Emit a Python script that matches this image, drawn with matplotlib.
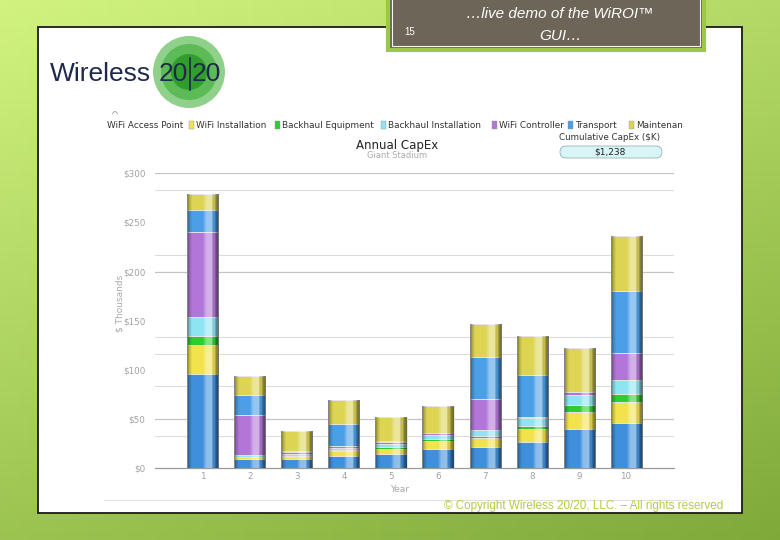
import numpy as np
import matplotlib
matplotlib.use('Agg')
import matplotlib.pyplot as plt
from matplotlib.patches import Rectangle, Circle, FancyBboxPatch

# data ($ thousands per year, stacked bottom -> top)
years = [1, 2, 3, 4, 5, 6, 7, 8, 9, 10]
series_names = ['WiFi Access Point', 'WiFi Installation', 'Backhaul Equipment',
                'Backhaul Installation', 'WiFi Controller', 'Transport', 'Maintenance']
wifi_ap = [96, 9, 9, 12.5, 14.5, 19.3, 21.3, 27, 39.6, 46.4]
wifi_inst = [29, 2, 2, 5, 5, 8.2, 9.8, 12.6, 18, 21.3]
bh_equip = [10, 1, 1.5, 1.5, 2.5, 2.3, 1.7, 3.4, 6.8, 7.6]
bh_inst = [18.6, 1.5, 2.5, 2, 3, 4.5, 6.2, 8, 10.1, 14.5]
wifi_ctrl = [86.5, 40.5, 2, 1.5, 1.5, 1.5, 31.2, 1.5, 2.8, 27.1]
transport = [22.4, 20.2, 1, 23, 1, 0.5, 42.6, 42.4, 0.5, 63.7]
maintenance = [16.2, 20, 20.3, 24, 25, 27.5, 34.2, 39.6, 44.7, 55.6]
yticks = [0, 50, 100, 150, 200, 250, 300]
ytick_labels = ['$0', '$50', '$100', '$150', '$200', '$250', '$300']
grid_vals = [33.3, 83.3, 116.7, 133.3, 216.7, 283.3]
grid_major = [50, 200, 300]
legend_labels = ['WiFi Installation', 'Backhaul Equipment', 'Backhaul Installation',
                 'WiFi Controller', 'Transport', 'Maintenan']
cumulative = '$1,238'

colors = ['#3f8fdc', '#f2e24c', '#2fcc2f', '#8fe4f2', '#b276d8', '#4a9fe6', '#dcd452']
stack = [wifi_ap, wifi_inst, bh_equip, bh_inst, wifi_ctrl, transport, maintenance]

W, H = 780, 540
fig = plt.figure(figsize=(7.8, 5.4), dpi=100)

# slide background in pixel coords
bg = fig.add_axes([0, 0, 1, 1])
bg.set_xlim(0, W)
bg.set_ylim(H, 0)
bg.axis('off')
yy, xx = np.mgrid[0:1:60j, 0:1:80j]
t = np.clip(0.65 * yy + 0.35 * xx, 0, 1)[..., None]
top = np.array([0.82, 0.95, 0.50])
bot = np.array([0.50, 0.67, 0.22])
bg.imshow(top * (1 - t) + bot * t, extent=[0, W, H, 0], aspect='auto', zorder=0)

# white panel
bg.add_patch(Rectangle((38, 27), 704, 486, facecolor='white', edgecolor='#1a1a1a',
                       lw=1.3, zorder=1))

# title box
bg.add_patch(Rectangle((388, -4), 316, 54, facecolor='#6d6557', edgecolor='#9cc84a',
                       lw=3, zorder=5))
bg.add_patch(Rectangle((392, -2), 308, 48, facecolor='none', edgecolor='#f4f4f0',
                       lw=0.8, zorder=6))
bg.text(560, 14, '\u2026live demo of the WiROI\u2122', color='white', fontsize=11,
        style='italic', family=['Liberation Sans', 'DejaVu Sans'], ha='center',
        va='center', zorder=7)
bg.text(560, 36, 'GUI\u2026', color='white', fontsize=11, style='italic',
        family=['Liberation Sans', 'DejaVu Sans'], ha='center', va='center', zorder=7)
bg.text(404, 32, '15', color='white', fontsize=7, family=['Liberation Sans', 'DejaVu Sans'],
        ha='left', va='center', zorder=7)

# logo
for r, c in [(36, '#8fd18a'), (28, '#5cbb56'), (18, '#2f9e2c')]:
    bg.add_patch(Circle((189, 72), r, facecolor=c, edgecolor='none', zorder=2))
logo_fam = ['Liberation Sans', 'DejaVu Sans']
bg.text(50, 74, 'Wireless', color='#1f2a4a', fontsize=19, family=logo_fam,
        ha='left', va='center', zorder=3)
bg.text(188, 74, '20', color='#1f2a4a', fontsize=19, family=logo_fam,
        ha='right', va='center', zorder=3)
bg.text(192, 74, '20', color='#1f2a4a', fontsize=19, family=logo_fam,
        ha='left', va='center', zorder=3)
bg.plot([190, 190], [58, 90], color='#1f2a4a', lw=1.2, zorder=3)

# legend row
leg_fs = 6.4
bg.text(107, 125, 'WiFi Access Point', fontsize=leg_fs, color='#333333', va='center', zorder=3)
bg.text(115, 114, '\u25e0', fontsize=5, color='#666666', ha='center', va='center', zorder=3)
leg_x = [189, 275, 381, 492, 568, 629]
for x0, lab, c in zip(leg_x, legend_labels, colors[1:]):
    bg.add_patch(Rectangle((x0, 121), 5, 8, facecolor=c, edgecolor='#999999', lw=0.3, zorder=3))
    bg.text(x0 + 7, 125, lab, fontsize=leg_fs, color='#333333', va='center', zorder=3)

bg.text(397, 145, 'Annual CapEx', fontsize=8.5, color='#222222', ha='center', va='center', zorder=3)
bg.text(397, 156, 'Giant Stadium', fontsize=6, color='#aaaaaa', ha='center', va='center', zorder=3)
bg.text(610, 137, 'Cumulative CapEx ($K)', fontsize=6.3, color='#333333', ha='center',
        va='center', zorder=3)
bg.add_patch(FancyBboxPatch((560, 146), 102, 12, boxstyle='round,pad=0,rounding_size=6',
                            facecolor='#d8f5f8', edgecolor='#9ab0b4', lw=0.6, zorder=3))
bg.text(610, 152, cumulative, fontsize=6.5, color='#222222', ha='center', va='center', zorder=4)

bg.text(120, 303, '$ Thousands', fontsize=6.5, color='#aaaaaa', rotation=90,
        ha='center', va='center', zorder=3)
bg.text(400, 490, 'Year', fontsize=6.5, color='#aaaaaa', ha='center', va='center', zorder=3)
bg.plot([104, 686], [500, 500], color='#e2e2e2', lw=0.8, zorder=3)
bg.text(584, 506, '\u00a9 Copyright Wireless 20/20, LLC. \u2013 All rights reserved',
        fontsize=8.4, color='#b9c940', family=['Liberation Sans', 'DejaVu Sans'],
        ha='center', va='center', zorder=3)

# chart
ax = fig.add_axes([155 / W, (H - 468.3) / H, 519 / W, 295 / H])
ax.set_facecolor('none')
for v in grid_vals:
    ax.axhline(v, color='#dcdcdc', lw=0.8, zorder=0)
for v in grid_major:
    ax.axhline(v, color='#c4c4c4', lw=0.9, zorder=0)

grad_pos = [0, 0.08, 0.16, 0.5, 0.6, 0.78, 0.86, 0.92, 1]
grad_rgb = [0, 0, 0, 1, 1, 1, 0, 0, 0]
grad_a = [0.45, 0.15, 0, 0, 0.4, 0.45, 0.05, 0.4, 0.5]
gx = np.linspace(0, 1, 64)
g_rgb = np.interp(gx, grad_pos, grad_rgb)
g_a = np.interp(gx, grad_pos, grad_a)
grad = np.zeros((1, 64, 4))
grad[0, :, 0] = g_rgb
grad[0, :, 1] = g_rgb
grad[0, :, 2] = g_rgb
grad[0, :, 3] = g_a

bottom = np.zeros(len(years))
for vals, c, name in zip(stack, colors, series_names):
    bars = ax.bar(years, vals, 0.66, bottom=bottom, color=c, edgecolor='#e4e4e4',
                  lw=0.7, label=name, zorder=2)
    for p in bars.patches:
        x0, y0 = p.get_x(), p.get_y()
        im = ax.imshow(grad, extent=[x0, x0 + p.get_width(), y0, y0 + p.get_height()],
                       aspect='auto', zorder=3, interpolation='bilinear')
        im.set_clip_path(p)
    bottom += np.array(vals)

ax.set_xlim(-0.02, 11.02)
ax.set_ylim(0, 300)
ax.set_yticks(yticks)
ax.set_yticklabels(ytick_labels)
ax.set_xticks(years)
ax.tick_params(axis='both', length=0, labelsize=6.3, labelcolor='#a0a0a0')
ax.tick_params(axis='y', pad=7)
ax.tick_params(axis='x', pad=3)
for s in ['top', 'right', 'left']:
    ax.spines[s].set_visible(False)
ax.spines['bottom'].set_color('#999999')
ax.spines['bottom'].set_linewidth(0.9)

fig.savefig('out.png', dpi=100)
